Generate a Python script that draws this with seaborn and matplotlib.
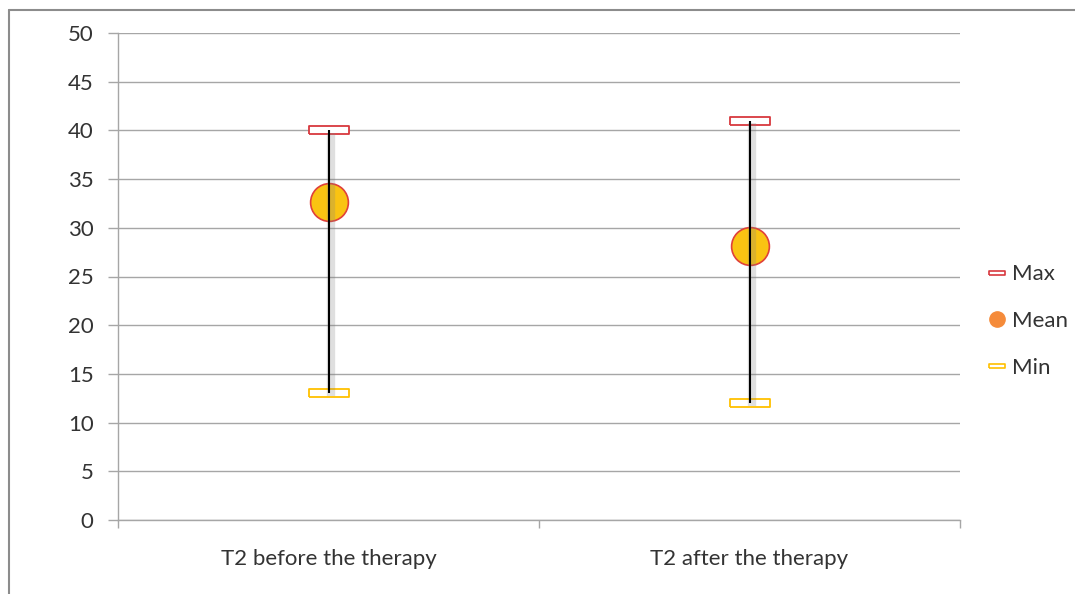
import pandas as pd
import matplotlib.pyplot as plt
import matplotlib.patheffects as pe
from matplotlib.lines import Line2D
import seaborn as sns

categories = ['T2 before the therapy', 'T2 after the therapy']
max_vals = [40.0, 41.0]
mean_vals = [32.6, 28.1]
min_vals = [13.0, 12.0]
y_ticks = list(range(0, 55, 5))

df = pd.DataFrame({'group': categories, 'Max': max_vals,
                   'Mean': mean_vals, 'Min': min_vals})

sns.set_style('white')
plt.rcParams['font.family'] = ['Lato', 'DejaVu Sans']

fig = plt.figure(figsize=(10.75, 5.94), dpi=100)
ax = fig.add_axes([118 / 1075, 1 - 520 / 594, 842 / 1075, 487 / 594])

# flat rectangle marker used for max / min
rect = [(-1, -0.2), (1, -0.2), (1, 0.2), (-1, 0.2), (-1, -0.2)]

sns.scatterplot(data=df, x='group', y='Mean', ax=ax, marker='o', s=740,
                color='#FAC312', edgecolor='#E0403A', linewidth=1.2,
                zorder=3, legend=False)
sns.scatterplot(data=df, x='group', y='Max', ax=ax, marker=rect, s=790,
                color='white', edgecolor='#D8383E', linewidth=1.3,
                zorder=3, legend=False)
sns.scatterplot(data=df, x='group', y='Min', ax=ax, marker=rect, s=790,
                color='white', edgecolor='#FFC000', linewidth=1.3,
                zorder=3, legend=False)

xpos = range(len(categories))
ax.vlines(xpos, df['Min'], df['Max'], color='black', linewidth=1.5, zorder=4,
          path_effects=[pe.SimpleLineShadow(offset=(2, -2), shadow_color='gray',
                                            alpha=0.25, linewidth=6),
                        pe.Normal()])

ax.set_xlim(-0.5, len(categories) - 0.5)
ax.set_ylim(0, 50)
ax.set_yticks(y_ticks)
ax.set_xticks(list(xpos))
ax.set_xticklabels(categories)
ax.set_xticks([i - 0.5 for i in range(len(categories) + 1)], minor=True)
ax.set_xlabel('')
ax.set_ylabel('')

ax.yaxis.grid(True, color='#A6A6A6', linewidth=1)
ax.set_axisbelow(True)
for s in ['top', 'right']:
    ax.spines[s].set_visible(False)
for s in ['left', 'bottom']:
    ax.spines[s].set_color('#A6A6A6')
    ax.spines[s].set_linewidth(1)

ax.tick_params(axis='y', which='major', left=True, length=7.5, width=1,
               color='#A6A6A6', pad=10, labelsize=16, labelcolor='#333333')
ax.tick_params(axis='x', which='major', bottom=False, length=0, pad=21,
               labelsize=16, labelcolor='#333333')
ax.tick_params(axis='x', which='minor', bottom=True, length=6, width=1,
               color='#A6A6A6')

handles = [
    Line2D([], [], linestyle='none', marker=rect, markersize=11,
           markerfacecolor='white', markeredgecolor='#D8383E', markeredgewidth=1.2),
    Line2D([], [], linestyle='none', marker='o', markersize=11,
           markerfacecolor='#F58B3A', markeredgecolor='#F58B3A'),
    Line2D([], [], linestyle='none', marker=rect, markersize=11,
           markerfacecolor='white', markeredgecolor='#FFC000', markeredgewidth=1.2),
]
leg = fig.legend(handles, ['Max', 'Mean', 'Min'], loc='center left',
                 bbox_to_anchor=(968 / 1075, 1 - 321 / 594), frameon=False,
                 fontsize=16, labelcolor='#333333', labelspacing=1.2,
                 handlelength=0.8, handletextpad=0.3)

# outer chart frame (left and top edges)
fig.add_artist(Line2D([9 / 1075, 9 / 1075], [0, 1 - 10 / 594],
                      transform=fig.transFigure, color='#8C8C8C', linewidth=1.5))
fig.add_artist(Line2D([9 / 1075, 1], [1 - 10 / 594, 1 - 10 / 594],
                      transform=fig.transFigure, color='#8C8C8C', linewidth=1.5))

fig.savefig('out.png', dpi=100)
